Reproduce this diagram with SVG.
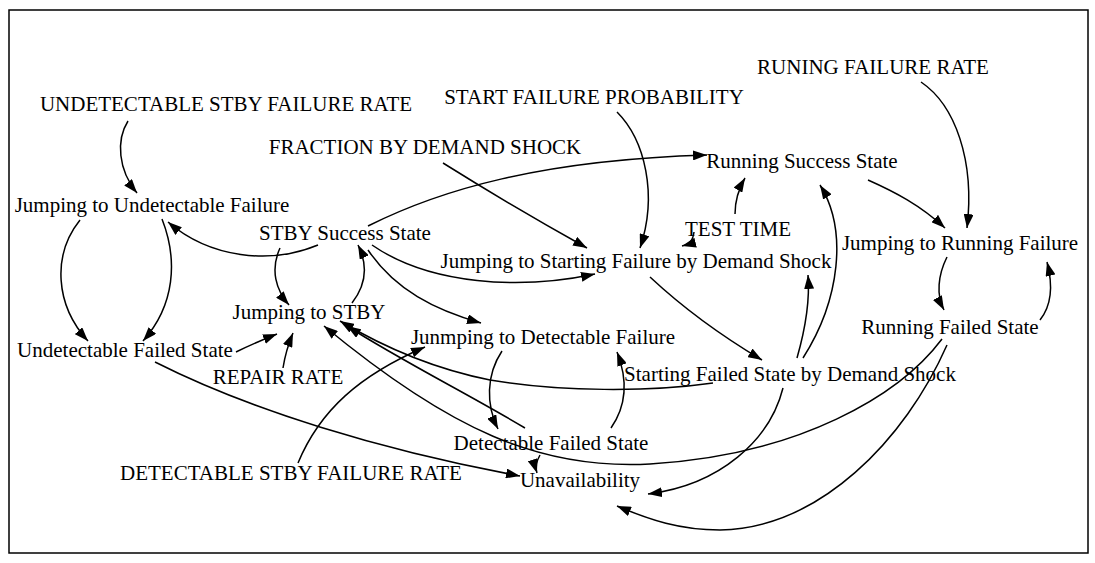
<svg xmlns="http://www.w3.org/2000/svg" width="1095" height="563" viewBox="0 0 1095 563">
<style>
text{font-family:"Liberation Serif","Times New Roman",serif;font-size:21px;fill:#000;text-anchor:middle}
.c path{fill:none;stroke:#000;stroke-width:1.5;marker-end:url(#ah)}
</style>
<defs>
<marker id="ah" markerUnits="userSpaceOnUse" markerWidth="15" markerHeight="10" refX="14" refY="5" orient="auto">
<path d="M0,0 L14,5 L0,10 z" fill="#000"/>
</marker>
</defs>
<rect x="0" y="0" width="1095" height="563" fill="#fff"/>
<rect x="9" y="10" width="1079" height="543" fill="none" stroke="#000" stroke-width="1.5"/>
<g class="c" id="connectors">
<path d="M128,121 C116,140 118,170 137,193"/>
<path d="M80,220 C52,255 55,305 88,341"/>
<path d="M162,219 C178,260 175,305 143,341"/>
<path d="M318,245 C270,265 210,258 168,222"/>
<path d="M368,226 C440,190 540,160 707,155"/>
<path d="M443,163 Q510,205 587,248"/>
<path d="M617,112 C645,140 658,195 640,248"/>
<path d="M372,245 C430,285 520,290 595,274"/>
<path d="M280,248 C270,270 276,290 289,305"/>
<path d="M352,303 C366,285 368,265 358,245"/>
<path d="M368,250 C395,290 435,310 481,323"/>
<path d="M694,232 C693,240 690,244 682,246"/>
<path d="M735,214 C735,200 738,190 745,178"/>
<path d="M803,358 C840,300 848,230 820,185"/>
<path d="M797,358 C805,330 810,300 808,275"/>
<path d="M868,180 C895,192 920,205 945,228"/>
<path d="M921,82 C955,105 975,160 967,228"/>
<path d="M947,257 C938,275 936,295 944,310"/>
<path d="M1040,320 C1052,305 1053,285 1047,262"/>
<path d="M650,277 C680,305 720,335 762,360"/>
<path d="M713,383 C650,392 560,392 490,380 C430,368 380,345 340,321"/>
<path d="M525,428 C470,395 400,360 347,326"/>
<path d="M942,339 C900,395 800,455 650,464 C540,470 450,430 324,326"/>
<path d="M236,352 C250,345 262,340 277,334"/>
<path d="M283,368 C285,355 288,345 293,333"/>
<path d="M155,362 C250,410 380,450 520,476"/>
<path d="M298,463 C320,410 360,375 425,347"/>
<path d="M540,455 C536,462 535,467 537,473"/>
<path d="M783,388 C770,440 720,485 648,494"/>
<path d="M947,345 C905,440 820,528 720,530 C680,530 650,520 617,506"/>
<path d="M611,428 C627,405 628,380 617,352"/>
<path d="M502,351 C486,375 486,405 498,429"/>
</g>
<g id="n_undet_rate"><text x="226" y="111">UNDETECTABLE STBY FAILURE RATE</text></g>
<g id="n_start_prob"><text x="594" y="104">START FAILURE PROBABILITY</text></g>
<g id="n_run_rate"><text x="873" y="74">RUNING FAILURE RATE</text></g>
<g id="n_fraction"><text x="425" y="154">FRACTION BY DEMAND SHOCK</text></g>
<g id="n_run_success"><text x="802" y="168">Running Success State</text></g>
<g id="n_jump_undet"><text x="152" y="212">Jumping to Undetectable Failure</text></g>
<g id="n_stby_success"><text x="345" y="240">STBY Success State</text></g>
<g id="n_test_time"><text x="738" y="236">TEST TIME</text></g>
<g id="n_jump_start"><text x="636" y="268">Jumping to Starting Failure by Demand Shock</text></g>
<g id="n_jump_run"><text x="960" y="250">Jumping to Running Failure</text></g>
<g id="n_jump_stby"><text x="309" y="319">Jumping to STBY</text></g>
<g id="n_jump_det"><text x="543" y="344">Junmping to Detectable Failure</text></g>
<g id="n_undet_failed"><text x="125" y="357">Undetectable Failed State</text></g>
<g id="n_run_failed"><text x="950" y="334">Running Failed State</text></g>
<g id="n_start_failed"><text x="790" y="381">Starting Failed State by Demand Shock</text></g>
<g id="n_repair"><text x="278" y="384">REPAIR RATE</text></g>
<g id="n_det_failed"><text x="551" y="450">Detectable Failed State</text></g>
<g id="n_det_rate"><text x="291" y="480">DETECTABLE STBY FAILURE RATE</text></g>
<g id="n_unavail"><text x="580" y="487">Unavailability</text></g>
</svg>
